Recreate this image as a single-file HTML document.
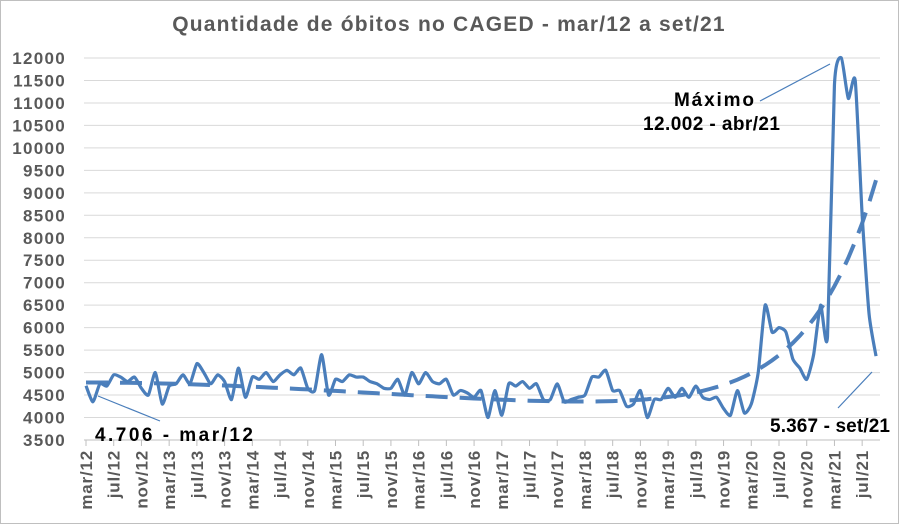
<!DOCTYPE html>
<html><head><meta charset="utf-8"><style>
body{margin:0;background:#fff}
svg{display:block;font-family:"Liberation Sans",Arial,sans-serif}
</style></head><body>
<svg id="c" width="900" height="525" viewBox="0 0 900 525" xmlns="http://www.w3.org/2000/svg">
<rect x="0.5" y="0.5" width="898" height="523" fill="#fff" stroke="#bfbfbf"/>
<text x="449" y="31" text-anchor="middle" font-size="21" font-weight="bold" fill="#595959" letter-spacing="1.2">Quantidade de óbitos no CAGED - mar/12 a set/21</text>
<g id="grid"></g><g id="ylab"></g><g id="xlab"></g>
<path id="trend" fill="none" stroke="#4f81bd" stroke-width="4" stroke-dasharray="22,12"/>
<path id="ser" fill="none" stroke="#4a7ebb" stroke-width="3.2" stroke-linejoin="round"/>
<g font-weight="bold" font-size="19" fill="#000">
<text x="95" y="441" textLength="158" lengthAdjust="spacing">4.706 - mar/12</text>
<text x="674" y="106" textLength="80" lengthAdjust="spacing">Máximo</text>
<text x="643" y="130" textLength="137" lengthAdjust="spacing">12.002 - abr/21</text>
<text x="770" y="432" textLength="120" lengthAdjust="spacing">5.367 - set/21</text>
</g>
<g stroke="#4a7ebb" stroke-width="1.2">
<line x1="98" y1="396" x2="160" y2="421"/>
<line x1="760" y1="101" x2="830" y2="64"/>
<line x1="838" y1="408" x2="872" y2="372"/>
</g>
</svg>
<script>
const ns="http://www.w3.org/2000/svg";
function Y(v){return 58+(12000-v)/500*22.47;}
function X(i){return 86+i*6.93;}
function el(p,t,a,txt){const e=document.createElementNS(ns,t);for(const k in a)e.setAttribute(k,a[k]);if(txt)e.textContent=txt;document.getElementById(p).appendChild(e);}
for(let v=3500;v<=12000;v+=500){
 if(v>3500)el('grid','line',{x1:84,x2:880,y1:Y(v),y2:Y(v),stroke:'#d9d9d9','stroke-width':1});
 el('ylab','text',{x:66,y:Y(v)+6,'text-anchor':'end','font-size':'17','font-weight':'bold',fill:'#595959','letter-spacing':'1.3'},String(v));
}
el('grid','line',{x1:84,x2:880,y1:Y(3500),y2:Y(3500),stroke:'#bfbfbf','stroke-width':1});
const mn=['mar','jul','nov'];
for(let i=0;i<=112;i+=4){
 const x=X(i);
 el('grid','line',{x1:x,x2:x,y1:Y(3500),y2:Y(3500)+6,stroke:'#bfbfbf'});
 const yr=12+Math.floor((i+2)/12);
 const lab=mn[(i/4)%3]+'/'+yr;
 el('xlab','text',{transform:`translate(${x+6},450) rotate(-90)`,'text-anchor':'end','font-size':'17','font-weight':'bold',fill:'#595959','letter-spacing':'0.8'},lab);
}
const d=[4706,4350,4750,4700,4950,4900,4800,4900,4650,4500,
5000,4300,4700,4750,4950,4750,5200,5000,4750,4950,4800,4400,
5100,4450,4900,4850,5000,4800,4950,5050,4950,5100,4650,4600,
5400,4500,4850,4800,4950,4900,4900,4800,4750,4650,4650,4850,
4500,5000,4750,5000,4800,4750,4850,4500,4600,4550,4450,4600,
4000,4600,4050,4750,4700,4800,4650,4750,4400,4400,4750,4350,
4400,4450,4500,4900,4900,5050,4600,4600,4250,4300,4600,4000,
4400,4400,4650,4450,4650,4450,4700,4450,4400,4450,4200,4050,
4600,4100,4300,5000,6500,5900,6000,5900,5300,5100,4850,5400,
6500,5800,11400,12002,11100,11500,8500,6300,5367];
function smooth(pts){let s=`M${pts[0][0]},${pts[0][1]}`;for(let i=0;i<pts.length-1;i++){const p0=pts[i-1]||pts[i],p1=pts[i],p2=pts[i+1],p3=pts[i+2]||p2;const t=0.1;s+=` C${p1[0]+(p2[0]-p0[0])*t},${p1[1]+(p2[1]-p0[1])*t} ${p2[0]-(p3[0]-p1[0])*t},${p2[1]-(p3[1]-p1[1])*t} ${p2[0]},${p2[1]}`;}return s;}
document.getElementById('ser').setAttribute('d',smooth(d.map((v,i)=>[X(i),Y(v)])));
const tv=[];for(let i=0;i<=114;i++){const t=i/114;let v=4780-2600*t*t+2200*t*t*t; v+=Math.exp((t-1)*12)*4900; tv.push([X(i),Y(v)]);}
document.getElementById('trend').setAttribute('d','M'+tv.map(p=>p[0].toFixed(1)+','+p[1].toFixed(1)).join(' L'));
</script>
</body></html>
